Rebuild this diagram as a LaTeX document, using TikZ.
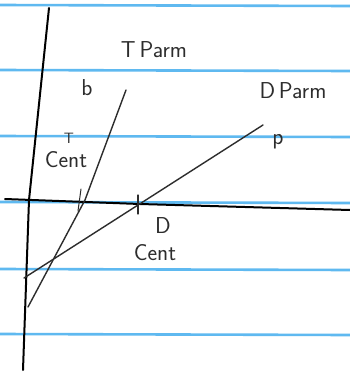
\documentclass[tikz,border=0pt]{standalone}
\usepackage{tikz}
\usetikzlibrary{positioning}

\definecolor{ruleblue}{RGB}{95,185,240}
\definecolor{graphite}{RGB}{45,45,45}

\begin{document}
\begin{tikzpicture}[x=1pt, y=-1pt,
    ruled/.style={ruleblue, line width=2.6pt},
    pencil/.style={graphite, line width=1.4pt, line cap=round, line join=round},
    axis/.style={black, line width=2pt, line cap=round, line join=round},
    lbl/.style={inner sep=0pt, font=\fontsize{23}{25}\selectfont\sffamily, text=graphite},
    small/.style={inner sep=0pt, font=\fontsize{15}{17}\selectfont\sffamily, text=graphite}]
  \useasboundingbox (0,0) rectangle (350,373);
  \fill[white] (0,0) rectangle (350,373);

  %% Ruled paper
  \foreach \y in {5,70,136,202,269,334}
    \draw[ruled] (0,\y) -- (350,\y+1);

  %% Axes
  \coordinate (ytop) at (49,8);
  \coordinate (ybot) at (23,370);
  \coordinate (xl) at (5,199);
  \coordinate (xr) at (350,210);
  \draw[axis] (ytop) -- (29,200) -- (ybot);
  \draw[axis] (xl) -- (140,204) -- (xr);

  %% T line and D line
  \coordinate (ttop) at (126,90);
  \coordinate (tbot) at (28,307);
  \coordinate (dtop) at (263,125);
  \coordinate (dbot) at (24,278);
  \draw[pencil] (ttop) -- (85,200) -- (tbot);
  \draw[pencil] (dtop) -- (dbot);

  %% Ticks on the horizontal axis
  \draw[pencil, line width=1pt] (81,189) -- (78,211);
  \draw[pencil, line width=1.1pt] (138,195) -- (138,214);

  %% Labels
  \node[lbl] (tparm) at (154,50) {T\,Parm};
  \node[lbl] (dparm) at (293,91) {D\,Parm};
  \node[lbl] (b) at (87,88) {b};
  \node[lbl] (p) at (278,142) {p};
  \node[small] (tmark) at (69,138) {T};
  \node[lbl] (tcent) at (66,160) {Cent};
  \node[lbl] (dmark) at (163,226) {D};
  \node[lbl] (dcent) at (155,253) {Cent};
\end{tikzpicture}
\end{document}
